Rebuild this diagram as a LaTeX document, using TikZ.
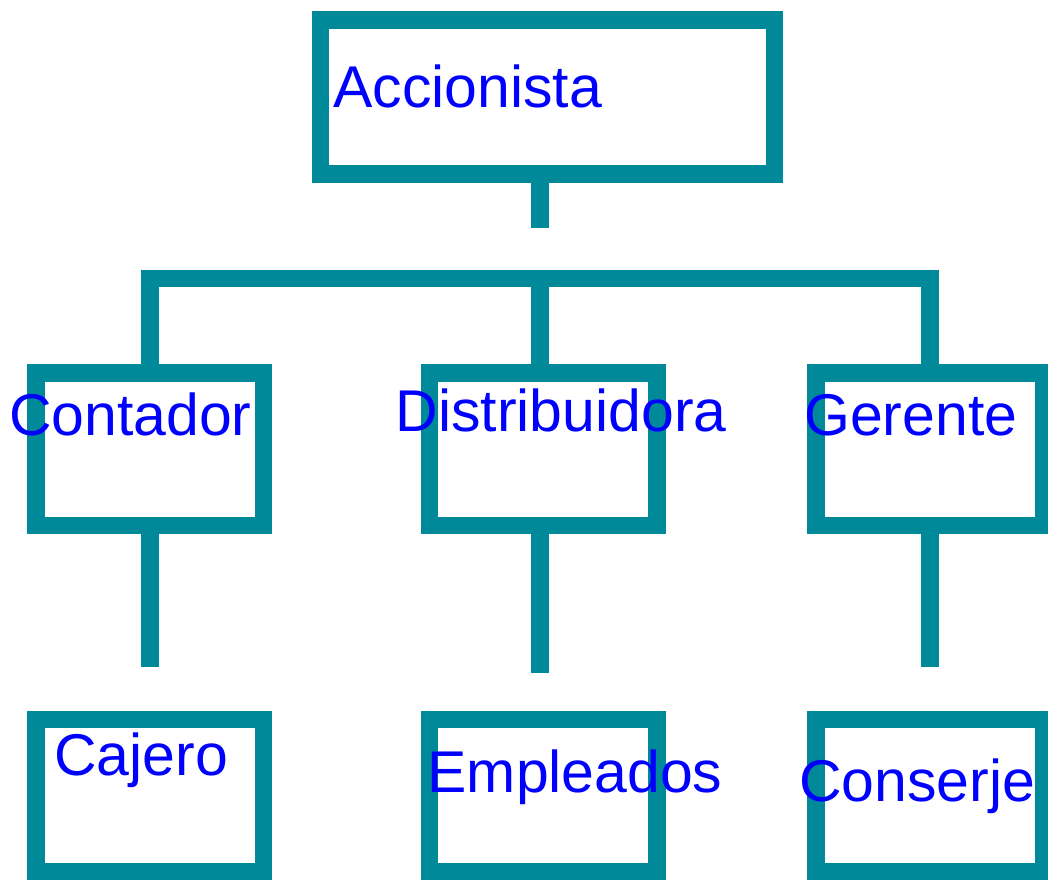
\documentclass[tikz,border=0pt]{standalone}
\usepackage{fontspec}
\setmainfont{Liberation Sans}
\definecolor{orgTeal}{RGB}{0,138,153}
\definecolor{orgBlue}{RGB}{0,0,255}
\begin{document}
\begin{tikzpicture}
[x=0.75pt,y=-0.75pt,
  lineDecorate/.style={-,line width=13.1pt,draw=orgTeal,line join=miter},%
  boxDecorate/.style={shape=rectangle,draw=orgTeal,line width=13.1pt,inner sep=0pt,
    minimum width=170.6pt,minimum height=114.3pt},%
  textDecorate/.style={anchor=base west,inner sep=0pt,text=orgBlue,
    font=\fontsize{44.2pt}{53pt}\selectfont}]
\useasboundingbox (0,0) rectangle (1048,879);
%% boxes
\node (accionista) at (547.4,97) [boxDecorate,minimum width=340.7pt,minimum height=115.5pt] {};
\foreach \nodename/\x/\y in {
  contador/149.75/449.25, distribuidora/543.25/449.25, gerente/929.75/449.25,
  cajero/149.75/795.9, empleados/543.25/795.9, conserje/929.75/795.9}
{
  \node (\nodename) at (\x,\y) [boxDecorate] {};
}
%% labels
\foreach \nodename/\nodelabel/\x/\y in {
  accionistaLabel/Accionista/333/107, contadorLabel/Contador/8.8/435,
  distribuidoraLabel/Distribuidora/395.4/431, gerenteLabel/Gerente/804/435,
  cajeroLabel/Cajero/54/775, empleadosLabel/Empleados/427.4/792.7,
  conserjeLabel/Conserje/799/801.7}
{
  \node (\nodename) at (\x,\y) [textDecorate] {\nodelabel};
}
%% connectors
\coordinate (stubEnd) at (540,227.7);
\coordinate (barLeft) at (150,278.5);
\coordinate (barMid) at (540,278.5);
\coordinate (barRight) at (930,278.5);
\coordinate (contadorEnd) at (150,667);
\coordinate (distribuidoraEnd) at (540,672.7);
\coordinate (gerenteEnd) at (930,667);
\draw[lineDecorate] (accionista.south -| stubEnd) -- (stubEnd);
\draw[lineDecorate] (barLeft |- contador.north) -- (barLeft) -- (barRight) -- (barRight |- gerente.north);
\draw[lineDecorate] (barMid) -- (barMid |- distribuidora.north);
\path
\foreach \startnode/\endnode in {
  contador/contadorEnd, distribuidora/distribuidoraEnd, gerente/gerenteEnd}
{
  (\endnode |- \startnode.south) edge[lineDecorate] (\endnode)
};
\end{tikzpicture}
\end{document}
